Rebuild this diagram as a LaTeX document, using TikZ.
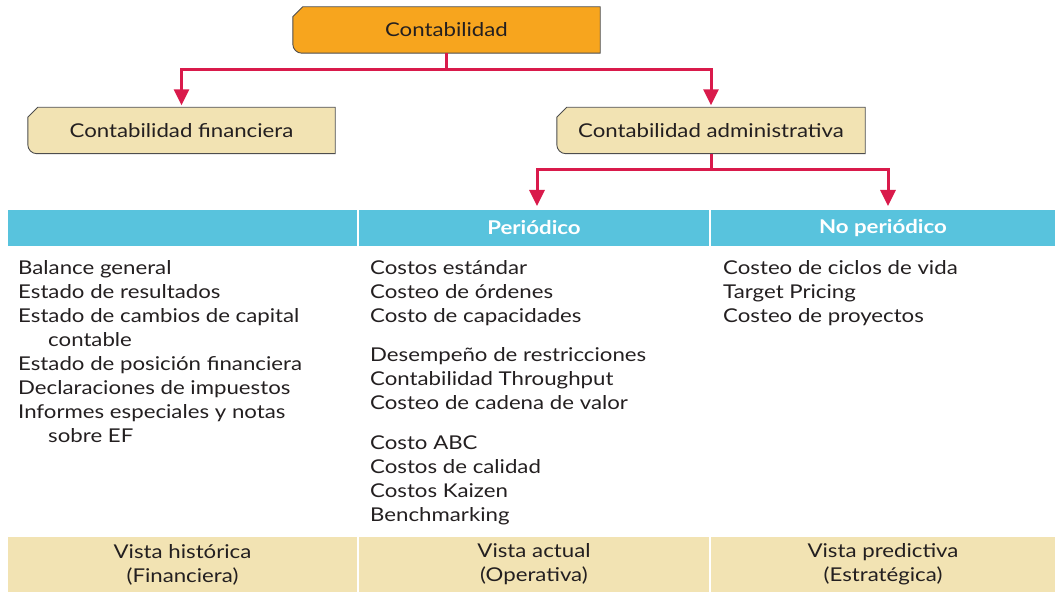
\documentclass[tikz,border=0pt]{standalone}
\usepackage{fontspec}
\setmainfont{Lato}[FakeStretch=1.17]
\usetikzlibrary{arrows.meta}
\definecolor{orangebox}{HTML}{F7A51E}
\definecolor{tanbox}{HTML}{F2E3B3}
\definecolor{bluebar}{HTML}{58C3DD}
\definecolor{crimson}{HTML}{D91A4B}
\definecolor{txt}{HTML}{231F20}
\definecolor{bordercol}{HTML}{4D4D4D}
\pgfdeclarelayer{bg}
\pgfsetlayers{bg,main}
\newcommand\tagshape[2]{%
  \begin{pgfonlayer}{bg}
  \draw[line width=0.9pt, draw=bordercol, fill=#2]
    ([xshift=10pt]#1.north west) -- (#1.north east) -- (#1.south east)
    -- ([xshift=9pt]#1.south west) arc[start angle=270,end angle=180,radius=9pt]
    -- ([yshift=-10pt]#1.north west) -- cycle;
  \end{pgfonlayer}}
\begin{document}
\begin{tikzpicture}[x=1pt,y=1pt,
  basefont/.style={font=\fontsize{19}{24}\selectfont},
  tagnode/.style={basefont, text=txt, inner sep=0pt, minimum height=46pt},
  hdr/.style={font=\fontsize{19}{24}\selectfont\bfseries, fill=bluebar, text=white, inner sep=0pt, minimum height=36pt},
  ftr/.style={basefont, fill=tanbox, text=txt, inner sep=0pt, minimum height=55pt, align=center},
  body/.style={basefont, text=txt, inner sep=0pt, align=left, anchor=north west},
  conn/.style={draw=crimson, line width=3pt, -{Triangle[width=15pt,length=16pt]}}]
\useasboundingbox (0,0) rectangle (1055,592);
% top boxes
\node[tagnode, minimum width=307pt] (top) at (446.5,562) {Contabilidad};
\tagshape{top}{orangebox}
\node[tagnode, minimum width=307pt] (fin) at (181.5,461.5) {Contabilidad financiera};
\tagshape{fin}{tanbox}
\node[tagnode, minimum width=308pt] (adm) at (711,461.5) {Contabilidad administrativa};
\tagshape{adm}{tanbox}
% header bar
\node[hdr, minimum width=349pt] (h1) at (182.5,364) {};
\node[hdr, minimum width=350pt] (h2) at (534,364) {Periódico};
\node[hdr, minimum width=344pt] (h3) at (883,364) {No periódico};
% connectors
\draw[conn] (top.south) -- ++(0,-16) -| ([yshift=2pt]fin.north);
\draw[conn] (top.south) -- ++(0,-16) -| ([yshift=2pt]adm.north);
\coordinate (a2) at (537,386);
\coordinate (a3) at (888,386);
\draw[conn] (adm.south) -- ++(0,-16) -| (a2);
\draw[conn] (adm.south) -- ++(0,-16) -| (a3);
% body text
\node[body] (c1) at (18,332) {Balance general\\Estado de resultados\\Estado de cambios de capital\\\hspace*{30pt}contable\\Estado de posición financiera\\Declaraciones de impuestos\\Informes especiales y notas\\\hspace*{30pt}sobre EF};
\node[body] (c2) at (370,332) {Costos estándar\\Costeo de órdenes\\Costo de capacidades\\[15pt]Desempeño de restricciones\\Contabilidad Throughput\\Costeo de cadena de valor\\[16pt]Costo ABC\\Costos de calidad\\Costos Kaizen\\Benchmarking};
\node[body] (c3) at (723,332) {Costeo de ciclos de vida\\Target Pricing\\Costeo de proyectos};
% footer
\node[ftr, minimum width=349pt] (f1) at (182.5,27.5) {Vista histórica\\(Financiera)};
\node[ftr, minimum width=350pt] (f2) at (534,27.5) {Vista actual\\(Operativa)};
\node[ftr, minimum width=344pt] (f3) at (883,27.5) {Vista predictiva\\(Estratégica)};
\end{tikzpicture}
\end{document}
